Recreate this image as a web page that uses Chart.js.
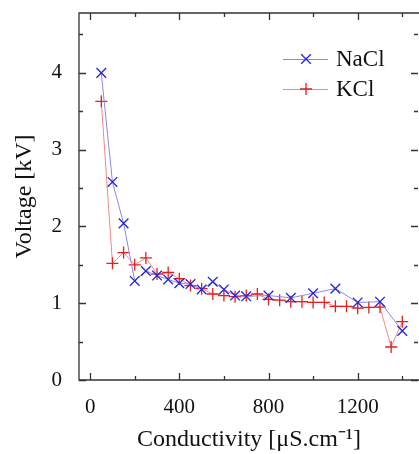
<!DOCTYPE html>
<html>
<head>
<meta charset="utf-8">
<script src="https://cdn.jsdelivr.net/npm/chart.js@4/dist/chart.umd.min.js"></script>
<style>
html,body{margin:0;padding:0;background:#fff;}
#wrap{width:419px;height:454px;position:relative;}
</style>
</head>
<body>
<div id="wrap"><canvas id="c" width="419" height="454"></canvas></div>
<script>
const naclX = [50,100,150,200,250,300,350,400,450,500,550,600,650,700,800,900,1000,1100,1200,1300,1400];
const naclY = [4.0,2.58,2.04,1.29,1.42,1.36,1.31,1.26,1.25,1.18,1.28,1.18,1.10,1.09,1.10,1.07,1.13,1.19,1.01,1.02,0.64];
const kclX = [50,100,150,200,250,300,350,400,450,500,550,600,650,700,750,800,850,900,950,1000,1050,1100,1150,1200,1250,1300,1350,1400];
const kclY = [3.63,1.52,1.66,1.50,1.59,1.38,1.40,1.32,1.23,1.19,1.12,1.10,1.085,1.10,1.12,1.05,1.04,1.02,1.02,1.01,1.01,0.96,0.96,0.935,0.945,0.95,0.43,0.76];
const xTicks = [0,400,800,1200];
const xMinorTicks = [200,600,1000,1400];
const yTicks = [0,1,2,3,4];
const yMinorTicks = [0.5,1.5,2.5,3.5,4.5];
const seriesNames = ['NaCl','KCl'];

const FONT = "'Liberation Serif','Times New Roman',serif";
const blueLine = '#8a8ae6', blueMark = '#2323e0';
const redLine = '#ee8a8a', redMark = '#e61e1e';

const framePlugin = {
  id: 'frame',
  afterDraw(chart) {
    const ctx = chart.ctx, a = chart.chartArea;
    const xs = chart.scales.x, ys = chart.scales.y;
    ctx.save();
    ctx.strokeStyle = '#333';
    ctx.lineWidth = 1.3;
    ctx.beginPath();
    ctx.moveTo(a.right, a.top); ctx.lineTo(a.left, a.top);
    ctx.lineTo(a.left, a.bottom); ctx.lineTo(a.right, a.bottom);
    ctx.stroke();
    const rx = a.right - 1;
    ctx.beginPath();
    const tick = (len, vals, horiz) => {
      vals.forEach(v => {
        if (horiz) {
          const p = Math.round(xs.getPixelForValue(v)) + 0.5;
          ctx.moveTo(p, a.bottom); ctx.lineTo(p, a.bottom - len);
          ctx.moveTo(p, a.top); ctx.lineTo(p, a.top + len);
        } else {
          const p = Math.round(ys.getPixelForValue(v)) + 0.5;
          ctx.moveTo(a.left, p); ctx.lineTo(a.left + len, p);
          ctx.moveTo(rx, p); ctx.lineTo(rx - len, p);
        }
      });
    };
    tick(7, xTicks, true); tick(4, xMinorTicks, true);
    tick(7, yTicks, false); tick(4, yMinorTicks, false);
    ctx.stroke();

    // legend
    const items = [
      {name: seriesNames[0], line: blueLine, mark: blueMark, style: 'crossRot', r: 6.8, y: 59},
      {name: seriesNames[1], line: redLine, mark: redMark, style: 'cross', r: 6, y: 89}
    ];
    items.forEach(it => {
      ctx.strokeStyle = it.line; ctx.lineWidth = 1;
      ctx.beginPath(); ctx.moveTo(283, it.y + 0.5); ctx.lineTo(328, it.y + 0.5); ctx.stroke();
      ctx.strokeStyle = it.mark;
      ctx.lineWidth = 1.3;
      ctx.beginPath();
      if (it.style === 'cross') {
        ctx.moveTo(306 - it.r, it.y); ctx.lineTo(306 + it.r, it.y);
        ctx.moveTo(306, it.y - it.r); ctx.lineTo(306, it.y + it.r);
      } else {
        const d = it.r * 0.7071;
        ctx.moveTo(306 - d, it.y - d); ctx.lineTo(306 + d, it.y + d);
        ctx.moveTo(306 + d, it.y - d); ctx.lineTo(306 - d, it.y + d);
      }
      ctx.stroke();
      ctx.fillStyle = '#111';
      ctx.font = '23px ' + FONT;
      ctx.textAlign = 'left'; ctx.textBaseline = 'middle';
      ctx.fillText(it.name, 336, it.y + 1);
    });
    ctx.restore();
  }
};

new Chart(document.getElementById('c'), {
  type: 'scatter',
  data: {
    datasets: [
      {
        label: seriesNames[0],
        data: naclX.map((x, i) => ({x, y: naclY[i]})),
        showLine: true,
        borderColor: blueLine,
        borderWidth: 1,
        pointStyle: 'crossRot',
        pointRadius: 6.8,
        pointBorderColor: blueMark,
        pointBorderWidth: 1.3,
        pointBackgroundColor: blueMark
      },
      {
        label: seriesNames[1],
        data: kclX.map((x, i) => ({x, y: kclY[i]})),
        showLine: true,
        borderColor: redLine,
        borderWidth: 1,
        pointStyle: 'cross',
        pointRadius: 6,
        pointBorderColor: redMark,
        pointBorderWidth: 1.3,
        pointBackgroundColor: redMark
      }
    ]
  },
  options: {
    responsive: false,
    animation: false,
    devicePixelRatio: 1,
    layout: {autoPadding: false, padding: {top: 13, right: 0, left: 0, bottom: 0}},
    plugins: {legend: {display: false}, tooltip: {enabled: false}},
    elements: {line: {tension: 0}},
    scales: {
      x: {
        type: 'linear',
        min: -50, max: 1475,
        grid: {display: false},
        border: {display: false},
        afterBuildTicks: s => { s.ticks = xTicks.map(v => ({value: v})); },
        afterFit: s => { s.height = 74; s.paddingLeft = 0; s.paddingRight = 0; },
        ticks: {color: '#111', padding: 7, font: {family: FONT, size: 21}, maxRotation: 0,
                callback: v => String(v)},
        title: {display: true, text: 'Conductivity [\u03BCS.cm\u207B\u00B9]', color: '#111',
                font: {family: FONT, size: 24}, padding: {top: 1, bottom: 0}}
      },
      y: {
        type: 'linear',
        min: 0, max: 4.78,
        grid: {display: false},
        border: {display: false},
        afterBuildTicks: s => { s.ticks = yTicks.map(v => ({value: v})); },
        afterFit: s => { s.width = 79; s.paddingTop = 0; s.paddingBottom = 0; },
        ticks: {color: '#111', padding: 9, font: {family: FONT, size: 21}, callback: v => String(v)},
        title: {display: true, text: 'Voltage [kV]', color: '#111',
                font: {family: FONT, size: 24}, padding: {top: 10, bottom: 0}}
      }
    }
  },
  plugins: [framePlugin]
});
</script>
</body>
</html>
